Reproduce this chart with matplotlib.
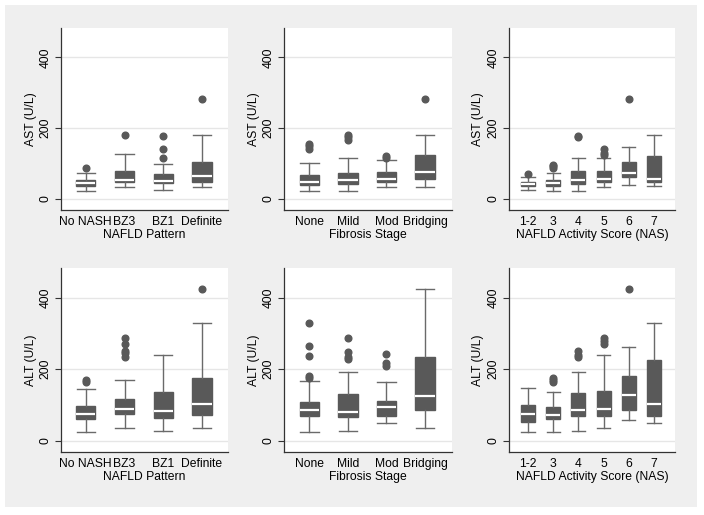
import matplotlib
matplotlib.use('Agg')
import matplotlib.pyplot as plt
from matplotlib.patches import Rectangle

plt.rcParams['font.family'] = ['Liberation Sans', 'DejaVu Sans']

# category labels
nafld_labels = ['No NASH', 'BZ3', 'BZ1', 'Definite']
fib_labels = ['None', 'Mild', 'Mod', 'Bridging']
nas_labels = ['1-2', '3', '4', '5', '6', '7']

# AST by NAFLD pattern
ast_nafld_lo = [22, 32, 24, 32]
ast_nafld_q1 = [35, 46, 43, 48]
ast_nafld_med = [43, 53, 51, 63]
ast_nafld_q3 = [52, 79, 70, 103]
ast_nafld_hi = [74, 127, 98, 180]
ast_nafld_out = [[88], [180], [115, 142, 178], [281]]

# AST by fibrosis stage
ast_fib_lo = [22, 22, 34, 32]
ast_fib_q1 = [38, 41, 48, 56]
ast_fib_med = [48, 54, 56, 76]
ast_fib_q3 = [66, 73, 75, 124]
ast_fib_hi = [100, 116, 110, 180]
ast_fib_out = [[140, 148, 155], [165, 175, 180], [115, 120], [281]]

# AST by NAS
ast_nas_lo = [24, 22, 22, 32, 38, 36]
ast_nas_q1 = [36, 37, 42, 46, 61, 46]
ast_nas_med = [42, 45, 54, 56, 72, 56]
ast_nas_q3 = [48, 54, 79, 77, 103, 120]
ast_nas_hi = [60, 74, 116, 116, 145, 180]
ast_nas_out = [[70], [88, 93, 96], [175, 178], [125, 128, 140], [281], []]

# ALT by NAFLD pattern
alt_nafld_lo = [23, 36, 27, 36]
alt_nafld_q1 = [61, 74, 63, 72]
alt_nafld_med = [75, 88, 83, 103]
alt_nafld_q3 = [97, 117, 136, 176]
alt_nafld_hi = [143, 169, 239, 329]
alt_nafld_out = [[165, 170], [235, 245, 250, 270, 287], [], [424]]

# ALT by fibrosis stage
alt_fib_lo = [23, 27, 49, 36]
alt_fib_q1 = [69, 66, 69, 85]
alt_fib_med = [85, 80, 94, 125]
alt_fib_q3 = [108, 130, 111, 233]
alt_fib_hi = [168, 192, 165, 424]
alt_fib_out = [[175, 180, 238, 265, 328], [228, 235, 248, 287], [210, 217, 243], []]

# ALT by NAS
alt_nas_lo = [23, 23, 27, 36, 58, 49]
alt_nas_q1 = [51, 61, 69, 69, 85, 68]
alt_nas_med = [74, 71, 85, 88, 127, 103]
alt_nas_q3 = [99, 94, 134, 139, 181, 225]
alt_nas_hi = [146, 136, 192, 240, 262, 329]
alt_nas_out = [[], [165, 170, 175], [235, 240, 250], [270, 280, 288], [425], []]

BOX = '#595959'
WHISK = '#6a6a6a'
FS = 8.7

W, H = 704, 515
fig = plt.figure(figsize=(W / 100, H / 100), dpi=100, facecolor='white')
# gray graph region, behind the axes
fig.patches.append(Rectangle((5 / W, 1 - 507 / H), 692 / W, 502 / H,
                             transform=fig.transFigure, facecolor='#efefef',
                             edgecolor='none', zorder=-5))


def add_axes(x0, x1, ytop, ybot):
    return fig.add_axes([x0 / W, 1 - ybot / H, (x1 - x0) / W, (ybot - ytop) / H])


def draw_panel(ax, labels, lo, q1, med, q3, hi, out, ylabel, xlabel, width, pad_l, pad_r):
    n = len(labels)
    pos = list(range(1, n + 1))
    stats = []
    for i in range(n):
        stats.append({'whislo': lo[i], 'q1': q1[i], 'med': med[i], 'q3': q3[i],
                      'whishi': hi[i], 'fliers': out[i]})
    ax.bxp(stats, positions=pos, widths=width, capwidths=width * 0.95,
           patch_artist=True, showfliers=True,
           boxprops=dict(facecolor=BOX, edgecolor=BOX, linewidth=1),
           medianprops=dict(color='white', linewidth=1.6),
           whiskerprops=dict(color=WHISK, linewidth=1),
           capprops=dict(color=WHISK, linewidth=1),
           flierprops=dict(marker='o', markerfacecolor=BOX, markeredgecolor=BOX,
                           markersize=4.8))
    ax.set_xlim(1 - pad_l, n + pad_r)
    ax.set_ylim(-32, 483)
    ax.set_yticks([0, 200, 400])
    ax.set_yticklabels(['0', '200', '400'], rotation=90, va='center', fontsize=FS)
    ax.set_xticks(pos)
    ax.set_xticklabels(labels, fontsize=FS)
    ax.tick_params(axis='x', length=0, pad=4)
    ax.tick_params(axis='y', length=4, width=0.8, pad=3, color='#333333')
    ax.yaxis.grid(True, color='#e6e6e6', linewidth=1)
    ax.set_axisbelow(True)
    for s in ['top', 'right']:
        ax.spines[s].set_visible(False)
    for s in ['left', 'bottom']:
        ax.spines[s].set_color('#333333')
        ax.spines[s].set_linewidth(0.9)
    ax.set_ylabel(ylabel, fontsize=FS, labelpad=2)
    ax.set_xlabel(xlabel, fontsize=FS, labelpad=1)


cols = [(61, 228), (284, 452), (509, 675)]
rows = [(28, 210), (268, 452)]

ax = add_axes(*cols[0], *rows[0])
draw_panel(ax, nafld_labels, ast_nafld_lo, ast_nafld_q1, ast_nafld_med, ast_nafld_q3,
           ast_nafld_hi, ast_nafld_out, 'AST (U/L)', 'NAFLD Pattern', 0.5, 0.64, 0.67)
ax = add_axes(*cols[1], *rows[0])
draw_panel(ax, fib_labels, ast_fib_lo, ast_fib_q1, ast_fib_med, ast_fib_q3,
           ast_fib_hi, ast_fib_out, 'AST (U/L)', 'Fibrosis Stage', 0.5, 0.66, 0.7)
ax = add_axes(*cols[2], *rows[0])
draw_panel(ax, nas_labels, ast_nas_lo, ast_nas_q1, ast_nas_med, ast_nas_q3,
           ast_nas_hi, ast_nas_out, 'AST (U/L)', 'NAFLD Activity Score (NAS)', 0.56, 0.76, 0.84)

ax = add_axes(*cols[0], *rows[1])
draw_panel(ax, nafld_labels, alt_nafld_lo, alt_nafld_q1, alt_nafld_med, alt_nafld_q3,
           alt_nafld_hi, alt_nafld_out, 'ALT (U/L)', 'NAFLD Pattern', 0.5, 0.64, 0.67)
ax = add_axes(*cols[1], *rows[1])
draw_panel(ax, fib_labels, alt_fib_lo, alt_fib_q1, alt_fib_med, alt_fib_q3,
           alt_fib_hi, alt_fib_out, 'ALT (U/L)', 'Fibrosis Stage', 0.5, 0.66, 0.7)
ax = add_axes(*cols[2], *rows[1])
draw_panel(ax, nas_labels, alt_nas_lo, alt_nas_q1, alt_nas_med, alt_nas_q3,
           alt_nas_hi, alt_nas_out, 'ALT (U/L)', 'NAFLD Activity Score (NAS)', 0.56, 0.76, 0.84)

fig.savefig('out.png', dpi=100, facecolor=fig.get_facecolor())
